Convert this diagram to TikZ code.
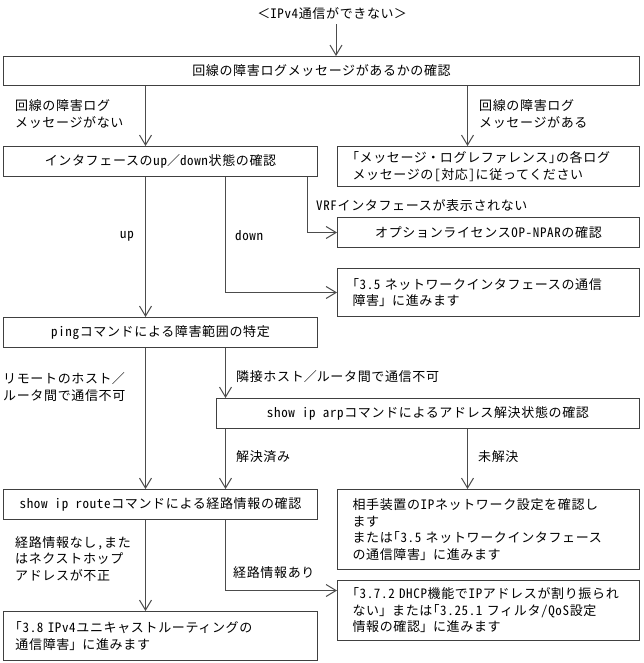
\documentclass[tikz,border=0pt]{standalone}
\usepackage{fontspec}
\setmainfont{Noto Sans CJK JP}[RawFeature=+hwid,RawFeature=+halt,LetterSpace=5]
\newfontfamily\fwfont{Noto Sans CJK JP}[LetterSpace=5]
\newcommand\fw[1]{{\fwfont #1}}
\usetikzlibrary{arrows.meta}
\tikzset{
  box/.style={draw=black!75, line width=1pt, inner sep=0pt, anchor=north west, font=\fontsize{13}{16.5}\selectfont},
  mbox/.style={box, align=left, inner xsep=15pt},
  lbl/.style={inner sep=0pt, anchor=west, align=left, font=\fontsize{13}{16.5}\selectfont},
  conn/.style={draw=black!70, line width=1pt},
  arr/.style={conn, -{Straight Barb[length=10pt,width=12pt,line width=1pt]}},
}
\begin{document}
\begin{tikzpicture}[x=1pt,y=-1pt]
\useasboundingbox (0,0) rectangle (643,663);
% columns
\coordinate (xA) at (145.5,0);
\coordinate (xB) at (225.5,0);
\coordinate (xC) at (307,0);
\coordinate (xD) at (467.5,0);
\coordinate (xT) at (336,0);
% title
\node[lbl, anchor=center] (title) at (332,14) {\fw{＜}IPv4通信ができない\fw{＞}};
% boxes
\node[box, minimum width=636pt, minimum height=29pt] (b1) at (3,56) {回線の障害ログメッセージがあるかの確認};
\node[box, minimum width=314pt, minimum height=30pt] (b2) at (3,146) {インタフェースのup\fw{／}down状態の確認};
\node[mbox, text width=272pt, minimum height=40pt] (b3) at (337,146) {「メッセージ\fw{・}ログレファレンス」の各ログ\\メッセージの[対応]に従ってください};
\node[box, minimum width=302pt, minimum height=30pt] (b4) at (337,217) {オプションライセンスOP-NPARの確認};
\node[mbox, text width=272pt, minimum height=48pt] (b5) at (337,268) {「3.5 ネットワークインタフェースの通信\\障害\fw{」}に進みます};
\node[box, minimum width=314pt, minimum height=30pt] (b6) at (3,317) {pingコマンドによる障害範囲の特定};
\node[box, minimum width=423pt, minimum height=30pt] (b7) at (216,398) {show ip arpコマンドによるアドレス解決状態の確認};
\node[box, minimum width=314pt, minimum height=30pt] (b8) at (3,489) {show ip routeコマンドによる経路情報の確認};
\node[mbox, text width=272pt, minimum height=80pt] (b9) at (337,489) {相手装置のIPネットワーク設定を確認し\\ます\\または「3.5 ネットワークインタフェース\\の通信障害\fw{」}に進みます};
\node[mbox, text width=272pt, minimum height=60pt] (b10) at (337,580) {「3.7.2 DHCP機能でIPアドレスが割り振られ\\ない\fw{」}または「3.25.1 フィルタ/QoS設定\\情報の確認\fw{」}に進みます};
\node[mbox, inner xsep=12pt, text width=290pt, minimum height=49pt] (b11) at (3,611) {「3.8 IPv4ユニキャストルーティングの\\通信障害\fw{」}に進みます};
% labels
\node[lbl] (l1) at (15,114) {回線の障害ログ\\メッセージがない};
\node[lbl] (l2) at (479,114) {回線の障害ログ\\メッセージがある};
\node[lbl] (l3) at (316,206) {VRFインタフェースが表示されない};
\node[lbl, anchor=east] (l4) at (134,236) {up};
\node[lbl] (l5) at (235,236) {down};
\node[lbl] (l6) at (3,387) {リモートのホスト\fw{／}\\ルータ間で通信不可};
\node[lbl] (l7) at (236,377) {隣接ホスト\fw{／}ルータ間で通信不可};
\node[lbl] (l8) at (236,457) {解決済み};
\node[lbl] (l9) at (478,457) {未解決};
\node[lbl] (l10) at (15,559) {経路情報なし，また\\はネクストホップ\\アドレスが不正};
\node[lbl] (l11) at (233,573) {経路情報あり};
% connectors
\draw[arr] ([yshift=-4pt]xT |- title.south) -- (xT |- b1.north);
\draw[arr] (xA |- b1.south) -- (xA |- b2.north);
\draw[arr] (xD |- b1.south) -- (xD |- b3.north);
\draw[arr] (xC |- b2.south) |- (b4.west);
\draw[arr] (xB |- b2.south) |- (b5.west);
\draw[arr] (xA |- b2.south) -- (xA |- b6.north);
\draw[arr] (xA |- b6.south) -- (xA |- b8.north);
\draw[arr] (xB |- b6.south) -- (xB |- b7.north);
\draw[arr] (xB |- b7.south) -- (xB |- b8.north);
\draw[arr] (xD |- b7.south) -- (xD |- b9.north);
\draw[arr] (xA |- b8.south) -- (xA |- b11.north);
\draw[arr] (xB |- b8.south) |- ([yshift=20pt]b10.west);
\end{tikzpicture}
\end{document}
